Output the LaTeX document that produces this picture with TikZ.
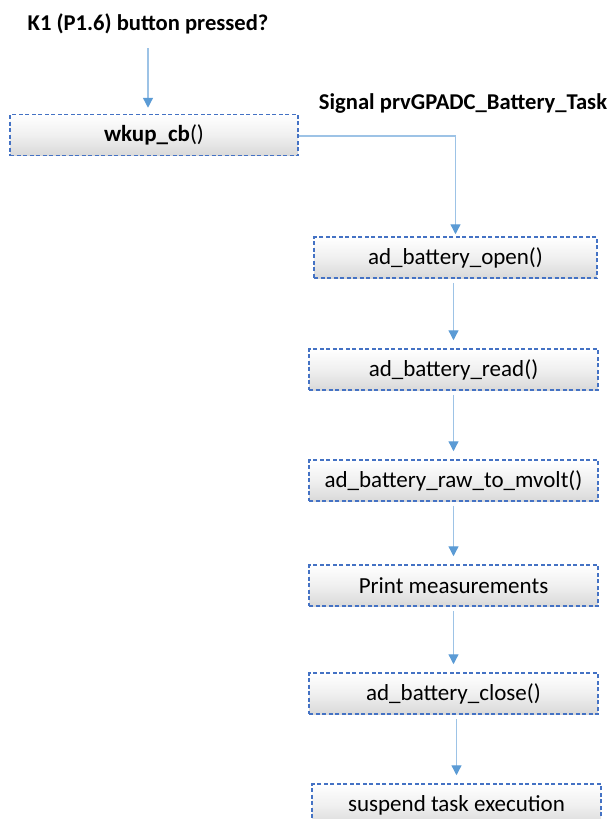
\documentclass[tikz,border=0pt]{standalone}
\usepackage{fontspec}
\setmainfont{Carlito}
\usetikzlibrary{arrows.meta}
\definecolor{boxline}{HTML}{4472C4}
\definecolor{arrline}{HTML}{9DC3E6}
\definecolor{arrhead}{HTML}{5B9BD5}
\definecolor{boxbot}{HTML}{D9D9D9}
\begin{document}
\begin{tikzpicture}[x=1pt,y=-1pt,
  procbox/.style={draw=boxline, line width=1.5pt, dash pattern=on 4pt off 2.5pt,
    top color=white, bottom color=boxbot, middle color=white!60!boxbot,
    minimum width=289pt, minimum height=41pt, inner sep=0pt,
    font=\fontsize{23}{25}\selectfont},
  titletext/.style={font=\fontsize{22.6}{25}\selectfont\bfseries, inner sep=0pt},
  flow/.style={draw=arrline, line width=1.3pt,
    -{Triangle[length=10pt,width=10pt,color=arrhead]}}
]
\useasboundingbox (0,0) rectangle (611,819);
\node[titletext] (k1) at (148,24) {K1 (P1.6) button pressed?};
\node[titletext] (sig) at (463,103) {Signal prvGPADC\_Battery\_Task};
\node[procbox, minimum width=288pt] (wkup) at (154,135) {\textbf{wkup\_cb}()};
\node[procbox, minimum width=283pt] (open) at (455.5,257.5) {ad\_battery\_open()};
\node[procbox] (read) at (453.5,369.5) {ad\_battery\_read()};
\node[procbox] (raw) at (453.5,480.5) {ad\_battery\_raw\_to\_mvolt()};
\node[procbox] (print) at (453.5,585.5) {Print measurements};
\node[procbox] (close) at (453.5,693.5) {ad\_battery\_close()};
\node[procbox, minimum height=42pt] (susp) at (456.5,805) {suspend task execution};
\coordinate (k1start) at (148,48);
\draw[flow, shorten >=6pt] (k1start) -- (k1start |- wkup.north);
\draw[flow, shorten >=2pt] (wkup.east |- 0,136) -| (open.north);
\draw[flow, shorten >=8pt] (read.north |- open.south) ++(0,4) -- (read.north);
\draw[flow, shorten >=8pt] (raw.north |- read.south) ++(0,4) -- (raw.north);
\draw[flow, shorten >=8pt] (print.north |- raw.south) ++(0,4) -- (print.north);
\draw[flow, shorten >=8pt] (close.north |- print.south) ++(0,4) -- (close.north);
\draw[flow, shorten >=8pt] (susp.north |- close.south) ++(0,4) -- (susp.north);
\end{tikzpicture}
\end{document}
